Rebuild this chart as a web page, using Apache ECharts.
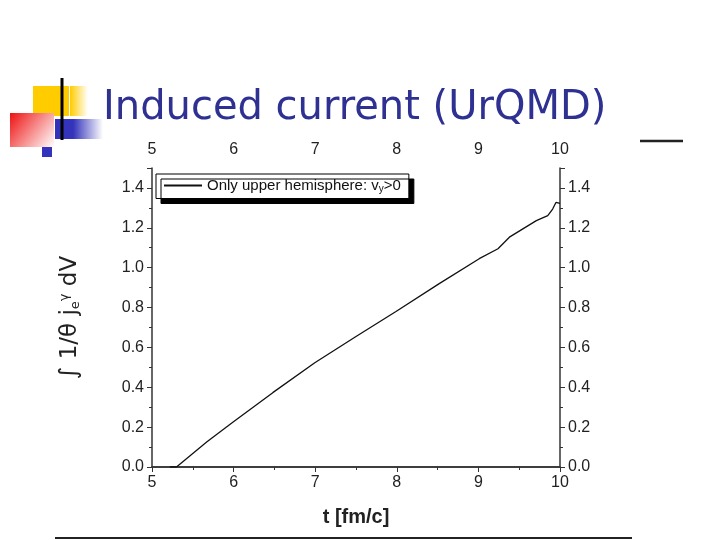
<!DOCTYPE html>
<html>
<head>
<meta charset="utf-8">
<script src="https://cdn.jsdelivr.net/npm/echarts@6/dist/echarts.min.js"></script>
<style>html,body{margin:0;padding:0;background:#fff}#c{width:720px;height:540px}</style>
</head>
<body>
<div id="c"></div>
<script>
// t [fm/c] and integrated current
var tValues = [5.22, 5.30, 5.67, 5.99, 6.48, 6.995, 7.50, 7.99, 8.52, 9.01, 9.24, 9.38, 9.71, 9.85, 9.91, 9.95, 10.0];
var jValues = [0.0, 0.0, 0.125, 0.224, 0.373, 0.523, 0.655, 0.78, 0.92, 1.045, 1.095, 1.153, 1.236, 1.261, 1.294, 1.327, 1.322];
var seriesName = 'Only upper hemisphere: v_y>0';

var chart = echarts.init(document.getElementById('c'));

var lineData = tValues.map(function (t, i) { return [t, jValues[i]]; });

function yLabel(v) { return v > 1.45 ? '' : v.toFixed(1); }

var tickFont = { color: '#222', fontSize: 16, fontFamily: 'Liberation Sans' };

var option = {
  animation: false,
  grid: { left: 152, right: 160, top: 168, bottom: 73 },
  title: {
    text: 'Induced current (UrQMD)',
    left: 98, top: 84,
    textStyle: { color: '#2e3192', fontSize: 40, fontWeight: 'normal', fontFamily: 'DejaVu Sans' }
  },
  xAxis: [
    {
      type: 'value', min: 5, max: 10, interval: 1, position: 'bottom',
      name: 't [fm/c]', nameLocation: 'middle', nameGap: 40,
      nameTextStyle: { fontSize: 20, fontWeight: 'bold', color: '#222', fontFamily: 'Liberation Sans' },
      axisLine: { lineStyle: { color: '#333', width: 1.5 } },
      axisTick: { inside: false, length: 5, lineStyle: { color: '#333' } },
      minorTick: { show: true, splitNumber: 2, length: 3 },
      axisLabel: tickFont, splitLine: { show: false }
    },
    {
      type: 'value', min: 5, max: 10, interval: 1, position: 'top',
      axisLine: { lineStyle: { color: '#333', width: 1.5 } },
      axisTick: { inside: true, length: 5, lineStyle: { color: '#333' } },
      minorTick: { show: true, splitNumber: 2, length: 3 },
      axisLabel: Object.assign({ margin: 10 }, tickFont), splitLine: { show: false }
    }
  ],
  yAxis: [
    {
      type: 'value', min: 0, max: 1.5, interval: 0.2, position: 'left',
      name: '{i|\u222b} 1/\u03b8 j{sub|e}{sup|\u03b3} dV', nameLocation: 'middle', nameGap: 70,
      nameTextStyle: {
        fontSize: 23, color: '#222', fontFamily: 'DejaVu Sans',
        rich: {
          i: { fontSize: 24 },
          sub: { fontSize: 13, verticalAlign: 'bottom', padding: [10, 0, 0, 0] },
          sup: { fontSize: 13, verticalAlign: 'top', padding: [0, 0, 10, 0] }
        }
      },
      axisLine: { show: true, lineStyle: { color: '#333', width: 1.5 } },
      axisTick: { show: true, inside: false, length: 5, lineStyle: { color: '#333' } },
      minorTick: { show: true, splitNumber: 2, length: 3 },
      axisLabel: Object.assign({ formatter: yLabel }, tickFont), splitLine: { show: false }
    },
    {
      type: 'value', min: 0, max: 1.5, interval: 0.2, position: 'right',
      axisLine: { show: true, lineStyle: { color: '#333', width: 1.5 } },
      axisTick: { show: true, inside: false, length: 5, lineStyle: { color: '#333' } },
      minorTick: { show: true, splitNumber: 2, length: 3 },
      axisLabel: Object.assign({ formatter: yLabel }, tickFont), splitLine: { show: false }
    }
  ],
  legend: {
    left: 156, top: 174, orient: 'vertical',
    backgroundColor: '#fff', borderColor: '#000', borderWidth: 1,
    shadowColor: '#000', shadowOffsetX: 5, shadowOffsetY: 5, shadowBlur: 0,
    padding: [4, 8], itemWidth: 38, itemHeight: 2,
    textStyle: { fontSize: 15, color: '#111', fontFamily: 'Liberation Sans',
      rich: { s: { fontSize: 10, verticalAlign: 'bottom', padding: [8, 0, 0, 0] } } },
    formatter: function () { return 'Only upper hemisphere: v{s|y}>0'; },
    data: [{ name: seriesName, icon: 'rect' }]
  },
  series: [{
    name: seriesName, type: 'line', data: lineData, showSymbol: false,
    xAxisIndex: 0, yAxisIndex: 0,
    lineStyle: { color: '#111', width: 1.3 }, itemStyle: { color: '#111' }
  }],
  graphic: [
    { type: 'rect', shape: { x: 33, y: 86, width: 36, height: 30 }, style: { fill: '#ffcc00' } },
    { type: 'rect', shape: { x: 70, y: 86, width: 18, height: 30 },
      style: { fill: new echarts.graphic.LinearGradient(0, 0, 1, 0, [{ offset: 0, color: '#ffcc00' }, { offset: 1, color: '#fff' }]) } },
    { type: 'rect', shape: { x: 10, y: 113, width: 44, height: 34 },
      style: { fill: new echarts.graphic.LinearGradient(0, 0, 1, 1, [{ offset: 0, color: '#ee1111' }, { offset: 1, color: '#fff' }]) } },
    { type: 'rect', shape: { x: 55, y: 119, width: 18, height: 20 }, style: { fill: '#3333bb' } },
    { type: 'rect', shape: { x: 73, y: 119, width: 30, height: 20 },
      style: { fill: new echarts.graphic.LinearGradient(0, 0, 1, 0, [{ offset: 0, color: '#3333bb' }, { offset: 1, color: '#fff' }]) } },
    { type: 'rect', shape: { x: 42, y: 147, width: 10, height: 10 }, style: { fill: '#3333bb' } },
    { type: 'line', shape: { x1: 62, y1: 78, x2: 62, y2: 140 }, style: { stroke: '#000', lineWidth: 3 } },
    { type: 'line', shape: { x1: 640, y1: 141, x2: 683, y2: 141 }, style: { stroke: '#222', lineWidth: 2.5 } },
    { type: 'line', shape: { x1: 55, y1: 538, x2: 632, y2: 538 }, style: { stroke: '#222', lineWidth: 2 } }
  ]
};

chart.setOption(option);
</script>
</body>
</html>
